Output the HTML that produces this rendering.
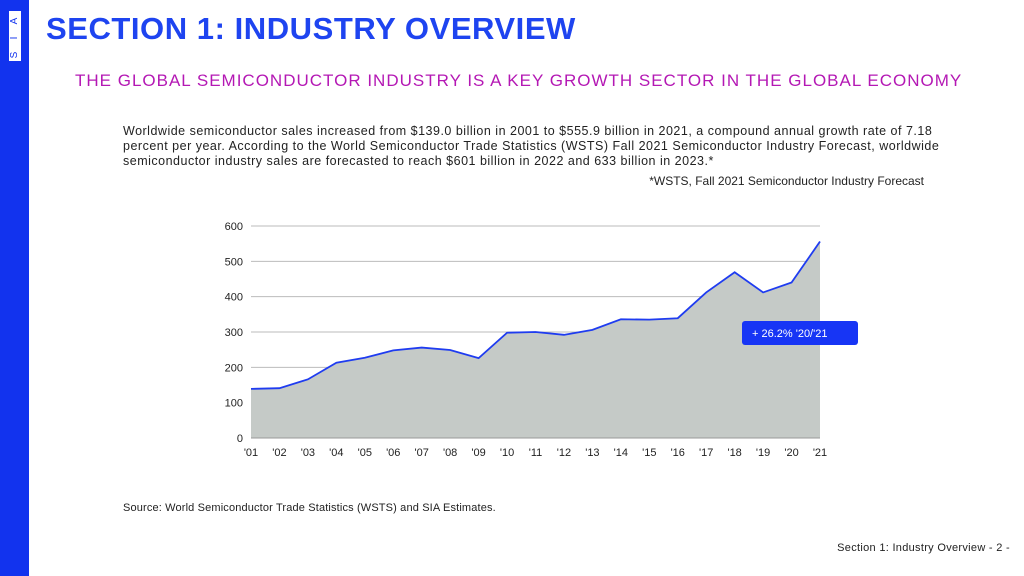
<!DOCTYPE html>
<html><head><meta charset="utf-8"><style>
body{margin:0;width:1024px;height:576px;background:#fff;position:relative;overflow:hidden;font-family:"Liberation Sans",sans-serif}
.sb{position:absolute;left:0;top:0;width:29px;height:576px;background:#1233ee}
.logo{position:absolute;left:8px;top:10px;width:14px;height:52px;background:#fff;border:1px solid #1233ee;box-sizing:border-box}
.logo span{position:absolute;left:0;width:12px;text-align:center;font-size:10px;color:#1233ee;transform:rotate(-90deg);line-height:12px}
h1{position:absolute;left:46px;top:11px;margin:0;font-size:31px;font-weight:bold;color:#1e44f0;letter-spacing:0.55px}
h2{position:absolute;left:75px;top:71px;margin:0;font-size:17px;font-weight:normal;color:#b418b4;letter-spacing:1.0px}
.p{position:absolute;left:123px;top:124px;font-size:12.5px;line-height:15px;color:#222;letter-spacing:0.5px;white-space:nowrap}
.note{position:absolute;right:100px;top:174px;font-size:12px;color:#222}
.src{position:absolute;left:123px;top:502px;font-size:11px;color:#222;letter-spacing:0.15px}
.foot{position:absolute;right:14px;top:542px;font-size:11px;color:#222;letter-spacing:0.3px}
</style></head><body>
<div class="sb"></div>
<div class="logo"><span style="top:38px">S</span><span style="top:21px">I</span><span style="top:4px">A</span></div>
<h1>SECTION 1: INDUSTRY OVERVIEW</h1>
<h2>THE GLOBAL SEMICONDUCTOR INDUSTRY IS A KEY GROWTH SECTOR IN THE GLOBAL ECONOMY</h2>
<div class="p">Worldwide semiconductor sales increased from $139.0 billion in 2001 to $555.9 billion in 2021, a compound annual growth rate of 7.18<br>percent per year. According to the World Semiconductor Trade Statistics (WSTS) Fall 2021 Semiconductor Industry Forecast, worldwide<br>semiconductor industry sales are forecasted to reach $601 billion in 2022 and 633 billion in 2023.*</div>
<div class="note">*WSTS, Fall 2021 Semiconductor Industry Forecast</div>
<svg id="c" width="1024" height="576" style="position:absolute;left:0;top:0"></svg>
<div class="src">Source: World Semiconductor Trade Statistics (WSTS) and SIA Estimates.</div>
<div class="foot">Section 1: Industry Overview - 2 -</div>
<script>
const categories=["'01","'02","'03","'04","'05","'06","'07","'08","'09","'10","'11","'12","'13","'14","'15","'16","'17","'18","'19","'20","'21"];
const sales=[139,141,166,213,227,248,256,249,226,298,300,292,306,336,335,339,412,469,412,440,556];
const yTicks=[0,100,200,300,400,500,600];
const annotation="+ 26.2% '20/'21";
const NS="http://www.w3.org/2000/svg",svg=document.getElementById('c');
const x0=251,x1=820,y0=438,y1=226;
const X=i=>x0+(x1-x0)*i/(categories.length-1);
const Y=v=>y0-(y0-y1)*v/600;
function mk(t,a,txt){const e=document.createElementNS(NS,t);for(const k in a)e.setAttribute(k,a[k]);if(txt!=null)e.textContent=txt;svg.appendChild(e);return e;}
yTicks.forEach(v=>{
 if(v>0){const l=mk('line',{x1:x0,x2:x1,y1:Y(v),y2:Y(v),stroke:'#bbb','stroke-width':1});
 
 }
 const t=mk('text',{x:243,y:Y(v)+4,'text-anchor':'end','font-size':11,fill:'#222','font-family':'Liberation Sans'},v);
 
 
});
let pts=sales.map((v,i)=>X(i)+','+Y(v)).join(' ');
const a=mk('polygon',{points:x0+','+y0+' '+pts+' '+x1+','+y0,fill:'#c5cac7'});


const ax=mk('line',{x1:x0,x2:x1,y1:y0,y2:y0,stroke:'#999'});


const ln=mk('polyline',{points:pts,fill:'none',stroke:'#1f3cf0','stroke-width':1.8});


categories.forEach((c,i)=>{
 const t=mk('text',{x:X(i),y:456,'text-anchor':'middle','font-size':11,fill:'#222','font-family':'Liberation Sans'},c);
 
 
});
const r=mk('rect',{x:742,y:321,width:116,height:24,rx:3,fill:'#1735f5'});


const at=mk('text',{x:752,y:337,'font-size':11,fill:'#fff','font-family':'Liberation Sans'},annotation);


</script>
</body></html>
